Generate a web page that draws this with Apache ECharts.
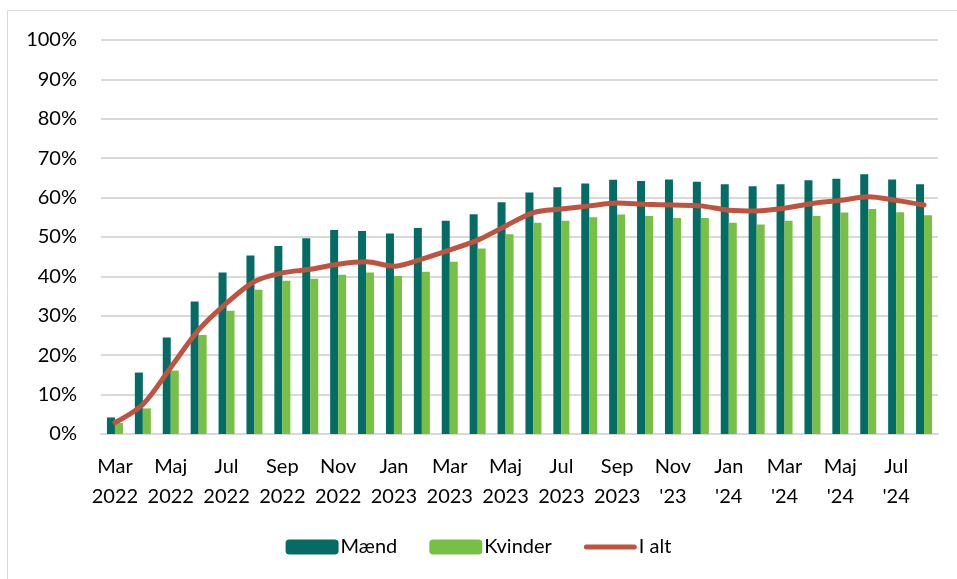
<!DOCTYPE html>
<html>
<head>
<meta charset="utf-8">
<script src="https://cdn.jsdelivr.net/npm/echarts@6/dist/echarts.min.js"></script>
<style>
  html, body { margin: 0; padding: 0; background: #fff; }
  #chart { width: 957px; height: 579px; }
</style>
</head>
<body>
<div id="chart"></div>
<script>
const categories = [
  'Mar\n2022', 'Apr\n2022', 'Maj\n2022', 'Jun\n2022', 'Jul\n2022', 'Aug\n2022',
  'Sep\n2022', 'Okt\n2022', 'Nov\n2022', 'Dec\n2022', 'Jan\n2023', 'Feb\n2023',
  'Mar\n2023', 'Apr\n2023', 'Maj\n2023', 'Jun\n2023', 'Jul\n2023', 'Aug\n2023',
  'Sep\n2023', "Okt\n'23", "Nov\n'23", "Dec\n'23", "Jan\n'24", "Feb\n'24",
  "Mar\n'24", "Apr\n'24", "Maj\n'24", "Jun\n'24", "Jul\n'24", "Aug\n'24"
];
const maend = [4.2, 15.6, 24.5, 33.6, 41.0, 45.3, 47.7, 49.7, 51.8, 51.5, 50.9, 52.3, 54.1, 55.8, 58.8,
  61.3, 62.6, 63.6, 64.5, 64.2, 64.6, 64.0, 63.4, 62.9, 63.4, 64.4, 64.8, 65.9, 64.6, 63.4];
const kvinder = [2.8, 6.5, 16.1, 25.1, 31.3, 36.6, 38.9, 39.4, 40.4, 41.0, 40.1, 41.2, 43.7, 47.1, 50.7,
  53.6, 54.1, 55.0, 55.7, 55.3, 54.8, 54.8, 53.6, 53.2, 54.1, 55.3, 56.2, 57.1, 56.3, 55.5];
const iAlt = [2.9, 7.5, 16.9, 26.4, 33.2, 38.7, 40.9, 41.8, 43.1, 43.7, 42.6, 44.4, 46.7, 49.2, 52.8,
  56.2, 57.1, 57.9, 58.6, 58.3, 58.1, 57.9, 56.8, 56.6, 57.3, 58.5, 59.3, 60.2, 59.3, 58.1];
const seriesNames = ['Mænd', 'Kvinder', 'I alt'];

// thin rounded line icon for the legend (the two bare M points keep the 53x15 box)
const lineIcon = 'path://M0,0 M53,15 M2.5,5 L50.5,5 A2.5,2.5 0 0 1 50.5,10 L2.5,10 A2.5,2.5 0 0 1 2.5,5 Z';

const font = 'Lato, "Open Sans", sans-serif';
const chart = echarts.init(document.getElementById('chart'));
chart.setOption({
  animation: false,
  textStyle: { fontFamily: font },
  graphic: [{
    type: 'rect',
    shape: { x: 7.5, y: 10.5, width: 960, height: 580 },
    style: { fill: 'none', stroke: '#d9d9d9', lineWidth: 1 },
    silent: true
  }],
  legend: {
    data: [
      { name: seriesNames[0] },
      { name: seriesNames[1] },
      { name: seriesNames[2], icon: lineIcon, itemStyle: { color: '#BE5440' } }
    ],
    bottom: 17,
    left: 'center',
    itemWidth: 53,
    itemHeight: 15,
    itemGap: 32,
    textStyle: { fontSize: 20, color: '#000', fontFamily: font, padding: [0, 0, 0, -3] }
  },
  grid: { left: 101, right: 19, top: 40, bottom: 145 },
  xAxis: {
    type: 'category',
    data: categories,
    axisLine: { lineStyle: { color: '#d9d9d9', width: 2 } },
    axisTick: { show: false },
    axisLabel: {
      interval: 1,
      fontSize: 20,
      color: '#000',
      lineHeight: 30,
      margin: 18
    }
  },
  yAxis: {
    type: 'value',
    min: 0,
    max: 100,
    interval: 10,
    axisLabel: { formatter: '{value}%', fontSize: 20, color: '#000', margin: 24 },
    splitLine: { lineStyle: { color: '#d9d9d9', width: 2 } },
    axisLine: { show: false },
    axisTick: { show: false }
  },
  series: [
    {
      name: 'Mænd',
      type: 'bar',
      data: maend,
      barWidth: 8,
      barGap: '0%',
      itemStyle: { color: '#046C64' }
    },
    {
      name: 'Kvinder',
      type: 'bar',
      data: kvinder,
      barWidth: 8,
      itemStyle: { color: '#77BF45' }
    },
    {
      name: 'I alt',
      type: 'line',
      data: iAlt,
      smooth: 0.3,
      symbol: 'none',
      lineStyle: { color: '#BE5440', width: 5, cap: 'round' },
      itemStyle: { color: '#BE5440' }
    }
  ]
});
</script>
</body>
</html>
